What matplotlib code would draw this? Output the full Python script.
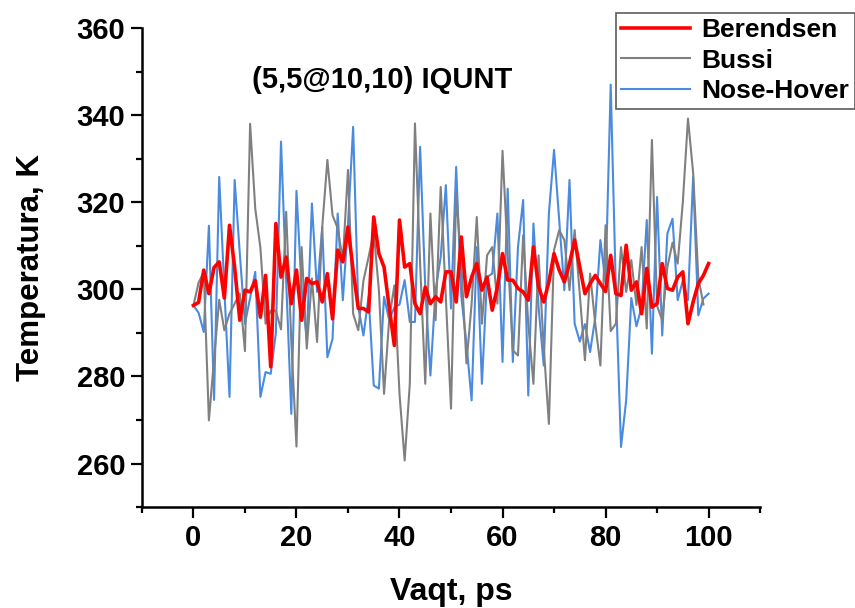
import matplotlib
matplotlib.use("Agg")
import matplotlib.pyplot as plt
import numpy as np

berendsen = [296.3, 297.0, 304.4, 299.0, 305.0, 306.3, 298.0, 314.7, 305.0, 292.9,
             299.8, 299.4, 302.0, 293.6, 303.2, 282.2, 315.1, 302.8, 307.4, 296.7,
             304.4, 292.9, 302.5, 301.3, 301.7, 297.1, 303.6, 293.2, 309.0, 306.3,
             314.3, 304.4, 295.6, 295.6, 294.8, 316.6, 308.2, 305.1, 295.9, 287.1,
             315.9, 305.1, 305.9, 296.7, 294.4, 300.5, 296.7, 298.3, 297.1, 304.0,
             304.0, 297.1, 312.0, 298.3, 302.8, 305.9, 299.8, 302.8, 295.2, 300.5,
             308.2, 302.1, 302.1, 300.2, 299.4, 297.5, 309.7, 300.5, 297.1, 301.7,
             308.2, 304.4, 301.7, 305.9, 311.3, 305.1, 299.0, 301.3, 303.2, 301.3,
             299.5, 307.8, 299.0, 298.6, 310.1, 299.8, 301.7, 294.4, 304.8, 295.9,
             296.7, 305.9, 300.2, 299.8, 302.8, 304.0, 292.1, 297.1, 301.3, 303.2,
             305.9]

bussi = [296.3, 301.5, 304.0, 269.9, 284.0, 297.6, 290.6, 294.4, 296.7, 299.0,
         285.8, 338.0, 318.5, 309.5, 292.1, 295.1, 295.1, 290.8, 317.8, 288.0,
         263.9, 309.7, 286.4, 302.5, 287.9, 314.3, 329.7, 317.0, 314.0, 306.7,
         327.4, 294.4, 290.6, 302.0, 307.4, 313.2, 299.8, 276.0, 293.2, 300.9,
         276.0, 260.7, 278.3, 338.1, 306.0, 278.3, 317.4, 292.9, 323.5, 298.0,
         272.6, 322.0, 305.9, 283.0, 296.7, 316.6, 292.1, 307.8, 309.7, 296.7,
         331.8, 308.0, 286.0, 284.8, 312.4, 292.0, 278.3, 307.8, 286.7, 269.1,
         309.0, 313.6, 311.3, 299.8, 313.6, 298.8, 283.7, 303.6, 292.1, 282.5,
         314.7, 290.4, 292.1, 309.7, 299.4, 306.7, 296.4, 309.7, 291.0, 334.3,
         296.2, 292.9, 305.1, 310.7, 305.9, 320.0, 339.2, 326.8, 302.8, 296.5]

nose_hoover = [296.3, 294.6, 290.2, 314.6, 274.6, 325.8, 300.0, 275.3, 325.1, 308.2,
               292.1, 298.0, 304.0, 275.3, 281.0, 280.6, 290.0, 333.9, 302.0, 271.4,
               322.6, 300.0, 288.6, 319.7, 299.4, 314.3, 284.4, 288.6, 317.4, 297.5,
               315.0, 337.3, 295.9, 289.4, 298.3, 277.9, 277.2, 298.3, 292.9, 295.9,
               296.5, 302.1, 292.5, 292.5, 332.7, 300.5, 280.2, 299.8, 307.4, 323.9,
               295.6, 328.1, 298.3, 287.5, 274.5, 309.7, 278.3, 302.8, 303.6, 317.4,
               283.3, 323.1, 283.3, 309.7, 320.5, 275.6, 315.1, 295.9, 282.5, 317.4,
               332.0, 315.9, 299.8, 325.1, 292.1, 288.0, 292.0, 285.6, 293.5, 311.3,
               301.5, 347.0, 300.0, 263.8, 274.5, 298.0, 291.5, 296.0, 315.9, 285.2,
               321.2, 289.4, 312.8, 316.2, 297.5, 302.0, 297.5, 325.8, 294.0, 297.9,
               299.0]

t_ber = np.arange(len(berendsen))
t_bus = np.arange(len(bussi))
t_nh = np.arange(len(nose_hoover))

series_names = ["Berendsen", "Bussi", "Nose-Hover"]
title_text = "(5,5@10,10) IQUNT"
xlabel_text = "Vaqt, ps"
ylabel_text = "Temperatura, K"

plt.rcParams['font.family'] = ['Liberation Sans', 'DejaVu Sans']
plt.rcParams['font.weight'] = 'bold'

fig = plt.figure(figsize=(8.55, 6.08), dpi=100)
ax = fig.add_axes([0.166, 0.166, 0.723, 0.788])

l3, = ax.plot(t_nh, nose_hoover, color='#4a8be0', lw=1.5, label=series_names[2], zorder=2)
l2, = ax.plot(t_bus, bussi, color='#808080', lw=1.5, label=series_names[1], zorder=3)
l1, = ax.plot(t_ber, berendsen, color='#ff0000', lw=2.6, label=series_names[0], zorder=4)

ax.set_xlim(-10, 110)
ax.set_ylim(250, 360)
ax.set_xticks([0, 20, 40, 60, 80, 100])
ax.set_xticks(np.arange(-10, 111, 20), minor=True)
ax.set_yticks([260, 280, 300, 320, 340, 360])
ax.set_yticks(np.arange(250, 361, 20), minor=True)

for s in ['top', 'right']:
    ax.spines[s].set_visible(False)
for s in ['left', 'bottom']:
    ax.spines[s].set_linewidth(1.8)

ax.tick_params(which='major', direction='out', length=8, width=1.6, labelsize=21, pad=4)
ax.tick_params(which='minor', direction='out', length=4, width=1.6)
for lab in ax.get_xticklabels() + ax.get_yticklabels():
    lab.set_fontweight('bold')

ax.set_xlabel(xlabel_text, fontsize=23, fontweight='bold', labelpad=18)
ax.set_ylabel(ylabel_text, fontsize=22.5, fontweight='bold', labelpad=22)

ax.text(0.388, 0.892, title_text, transform=ax.transAxes, ha='center', va='center',
        fontsize=21, fontweight='bold')

leg = fig.legend(handles=[l1, l2, l3], loc='upper right',
                 bbox_to_anchor=(0.9995, 0.979), frameon=True,
                 fancybox=False, edgecolor='#333333', handlelength=2.6,
                 handletextpad=0.45, borderpad=0.2, labelspacing=0.25,
                 borderaxespad=0.0, prop={'weight': 'bold', 'size': 19})
leg.get_frame().set_linewidth(1.2)
leg.set_zorder(10)

fig.savefig('out.png', dpi=100)
